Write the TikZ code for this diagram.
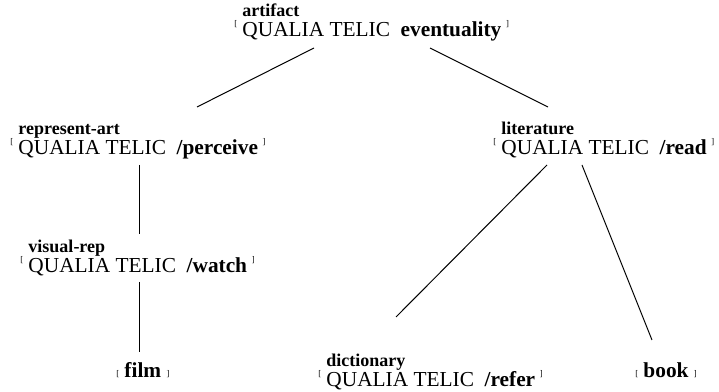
\documentclass[tikz,border=0pt]{standalone}
\usepackage{fontspec}
\setmainfont{Liberation Serif}
\usetikzlibrary{calc}

\newcommand{\colchete}[2]{\raisebox{#1}{\fontsize{6.5}{6.5}\selectfont #2}}
\newcommand{\tipo}[2]{\colchete{7.5pt}{[}\hspace{4pt}\begin{tabular}[b]{@{}l@{}}\fontsize{13.5}{16}\selectfont\bfseries #1\\[-3pt] QUALIA TELIC\ \ \textbf{#2}\end{tabular}\hspace{3.5pt}\colchete{7.5pt}{]}}
\newcommand{\folha}[1]{\colchete{0.8pt}{[}\hspace{4pt}\textbf{#1}\hspace{4pt}\colchete{0.8pt}{]}}

\begin{document}
\begin{tikzpicture}[
    x=0.75pt, y=-0.75pt,
    tipo/.style={
        anchor=base west,
        inner sep=0pt,
        font=\fontsize{16}{18}\selectfont
    },
    ramo/.style={
        line width=0.75pt
    }
]
\useasboundingbox (0,0) rectangle (719,392);

\node[tipo] (artifact) at (234,37) {\tipo{artifact}{eventuality}};
\node[tipo] (represent) at (10,155) {\tipo{represent-art}{/perceive}};
\node[tipo] (literature) at (493,155) {\tipo{literature}{/read}};
\node[tipo] (visualrep) at (20,273) {\tipo{visual-rep}{/watch}};
\node[tipo] (film) at (116,378) {\folha{film}};
\node[tipo] (dictionary) at (318,387) {\tipo{dictionary}{/refer}};
\node[tipo] (book) at (635,378) {\folha{book}};

% ramos da arvore
\draw[ramo] ($(artifact.base west)+(80,11)$) -- ($(represent.base west)+(187,-48)$);
\draw[ramo] ($(artifact.base west)+(196,11)$) -- ($(literature.base west)+(55,-48)$);
\draw[ramo] ($(represent.base west)+(129,10)$) -- ($(visualrep.base west)+(119,-39)$);
\draw[ramo] ($(visualrep.base west)+(119,9)$) -- ($(film.base west)+(23,-26)$);
\draw[ramo] ($(literature.base west)+(54,10)$) -- ($(dictionary.base west)+(78,-70)$);
\draw[ramo] ($(literature.base west)+(89,10)$) -- ($(book.base west)+(17,-38)$);

\end{tikzpicture}
\end{document}
